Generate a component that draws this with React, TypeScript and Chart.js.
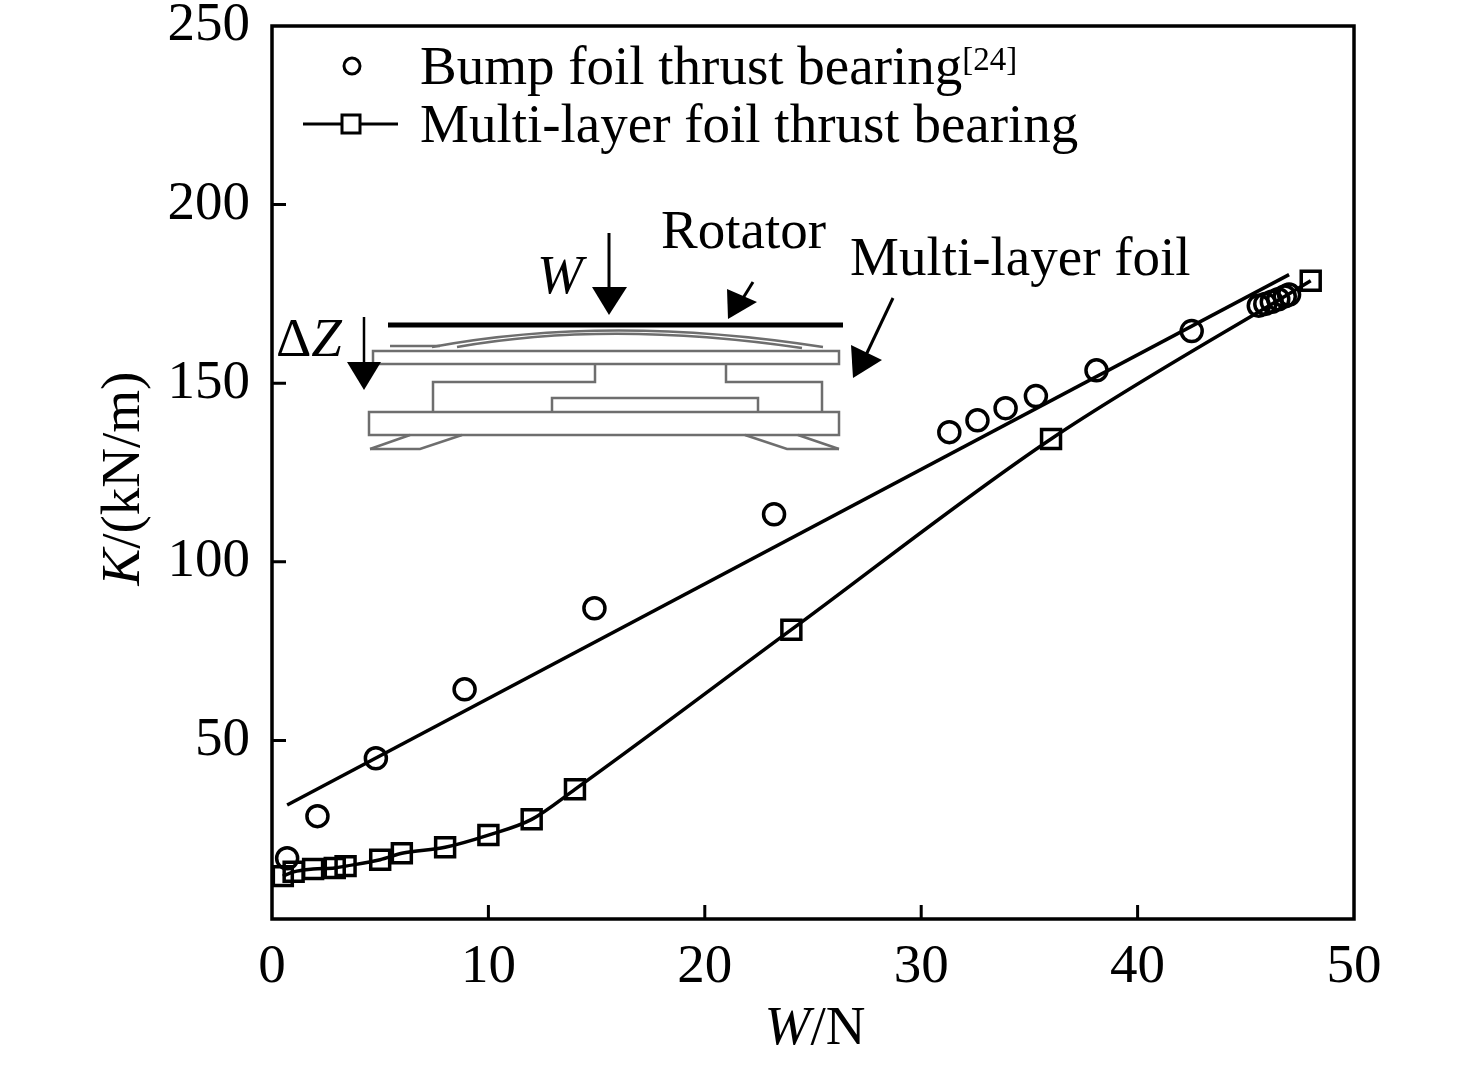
import { useEffect, useRef } from "react"
import { Chart, registerables } from "chart.js"

Chart.register(...registerables)

// Bump foil thrust bearing [24] (open circles)
const bumpLoad = [0.7, 2.1, 4.8, 8.9, 14.9, 23.2, 31.3, 32.6, 33.9, 35.3, 38.1, 42.5, 45.6, 45.9, 46.2, 46.5, 46.8, 47.0]
const bumpStiffness = [17.0, 28.8, 45.0, 64.3, 87.0, 113.3, 136.3, 139.6, 143.0, 146.4, 153.6, 164.6, 171.7, 172.2, 172.8, 173.5, 174.3, 174.8]

// linear fit through the bump foil data
const fitLoad = [0.7, 47.0]
const fitStiffness = [31.9, 180.4]

// Multi-layer foil thrust bearing (squares + line)
const multiLoad = [0.5, 1.0, 1.9, 2.9, 3.4, 5.0, 6.0, 8.0, 10.0, 12.0, 14.0, 24.0, 36.0, 48.0]
const multiStiffness = [12.0, 13.2, 14.0, 14.3, 14.8, 16.6, 18.4, 20.1, 23.5, 27.9, 36.3, 81.0, 134.4, 178.7]

const xTicks = [0, 10, 20, 30, 40, 50]
const yTicks = [50, 100, 150, 200, 250]

const legendLabels = ["Bump foil thrust bearing", "Multi-layer foil thrust bearing"]
const legendRef = "[24]"

const FAMILY = '"Liberation Serif", "Times New Roman", serif'
const FS = 55
const font = (size: number, italic = false) => `${italic ? "italic " : ""}${size}px ${FAMILY}`

const zip = (xs: number[], ys: number[]) => xs.map((x, i) => ({ x, y: ys[i] }))

type Run = { text: string; italic?: boolean; size?: number }

function drawRuns(ctx: CanvasRenderingContext2D, runs: Run[], x: number, y: number, align: "left" | "center" = "left") {
  let total = 0
  runs.forEach(r => {
    ctx.font = font(r.size ?? FS, r.italic)
    total += ctx.measureText(r.text).width
  })
  let cx = align === "center" ? x - total / 2 : x
  runs.forEach(r => {
    ctx.font = font(r.size ?? FS, r.italic)
    ctx.fillText(r.text, cx, y)
    cx += ctx.measureText(r.text).width
  })
}

function tri(ctx: CanvasRenderingContext2D, pts: number[][]) {
  ctx.beginPath()
  ctx.moveTo(pts[0][0], pts[0][1])
  ctx.lineTo(pts[1][0], pts[1][1])
  ctx.lineTo(pts[2][0], pts[2][1])
  ctx.closePath()
  ctx.fill()
}

function poly(ctx: CanvasRenderingContext2D, pts: number[][]) {
  ctx.beginPath()
  ctx.moveTo(pts[0][0], pts[0][1])
  for (let i = 1; i < pts.length; i++) ctx.lineTo(pts[i][0], pts[i][1])
  ctx.stroke()
}

const decorPlugin = {
  id: "decor",
  afterDraw(chart: any) {
    const { ctx, chartArea: a, scales } = chart
    const xs = scales.x
    const ys = scales.y
    ctx.save()
    ctx.strokeStyle = "#000"
    ctx.fillStyle = "#000"

    // frame
    ctx.lineWidth = 3.5
    ctx.strokeRect(a.left, a.top, a.right - a.left, a.bottom - a.top)

    // inward tick marks
    ctx.lineWidth = 3
    ctx.beginPath()
    xTicks.forEach(v => {
      if (v <= xs.min || v >= xs.max) return
      const px = xs.getPixelForValue(v)
      ctx.moveTo(px, a.bottom)
      ctx.lineTo(px, a.bottom - 14)
    })
    yTicks.forEach(v => {
      if (v <= ys.min || v >= ys.max) return
      const py = ys.getPixelForValue(v)
      ctx.moveTo(a.left, py)
      ctx.lineTo(a.left + 14, py)
    })
    ctx.stroke()

    // axis titles
    ctx.textBaseline = "alphabetic"
    drawRuns(ctx, [{ text: "W", italic: true }, { text: "/N" }], (a.left + a.right) / 2 + 2, 1044, "center")
    ctx.save()
    ctx.translate(125, (a.top + a.bottom) / 2 + 6)
    ctx.rotate(-Math.PI / 2)
    ctx.textBaseline = "middle"
    drawRuns(ctx, [{ text: "K", italic: true }, { text: "/(kN/m)" }], 0, 0, "center")
    ctx.restore()

    // origin for the legend and the inset sketch
    const ox = xs.getPixelForValue(0)
    const oy = ys.getPixelForValue(250)
    const P = (dx: number, dy: number) => [ox + dx, oy + dy]

    // legend
    ctx.lineWidth = 3
    ctx.beginPath()
    ctx.arc(ox + 80, oy + 40, 8, 0, Math.PI * 2)
    ctx.stroke()
    drawRuns(ctx, [{ text: legendLabels[0] }], ox + 148, oy + 58)
    ctx.font = font(FS)
    const w0 = ctx.measureText(legendLabels[0]).width
    drawRuns(ctx, [{ text: legendRef, size: 33 }], ox + 148 + w0, oy + 44)
    poly(ctx, [P(31, 98), P(126, 98)])
    ctx.fillStyle = "#fff"
    ctx.fillRect(ox + 70, oy + 89, 18, 18)
    ctx.fillStyle = "#000"
    ctx.strokeRect(ox + 70, oy + 89, 18, 18)
    drawRuns(ctx, [{ text: legendLabels[1] }], ox + 148, oy + 116)

    // inset sketch of the bearing
    ctx.strokeStyle = "#6e6e6e"
    ctx.lineWidth = 2.5
    poly(ctx, [P(118, 320), P(168, 320)])
    ctx.beginPath()
    ctx.moveTo(...(P(160, 321) as [number, number]))
    ctx.quadraticCurveTo(ox + 338, oy + 288, ox + 551, oy + 321)
    ctx.stroke()
    ctx.beginPath()
    ctx.moveTo(...(P(185, 321) as [number, number]))
    ctx.quadraticCurveTo(ox + 338, oy + 294, ox + 530, oy + 322)
    ctx.stroke()
    ctx.strokeRect(ox + 101, oy + 325, 466, 13)
    poly(ctx, [P(323, 338), P(323, 356), P(161, 356), P(161, 386)])
    poly(ctx, [P(454, 338), P(454, 356), P(550, 356), P(550, 386)])
    poly(ctx, [P(280, 386), P(280, 372), P(486, 372), P(486, 386)])
    ctx.strokeRect(ox + 97, oy + 386, 470, 23)
    poly(ctx, [P(138, 409), P(98, 423)])
    poly(ctx, [P(98, 423), P(148, 423), P(190, 409)])
    poly(ctx, [P(473, 409), P(515, 423), P(567, 423)])
    poly(ctx, [P(526, 409), P(567, 423)])

    // rotator
    ctx.strokeStyle = "#000"
    ctx.lineWidth = 5
    poly(ctx, [P(116, 299), P(571, 299)])

    // arrows
    ctx.lineWidth = 3
    poly(ctx, [P(337, 207), P(337, 264)])
    tri(ctx, [P(320, 261), P(355, 261), P(337, 289)])
    poly(ctx, [P(481, 256), P(468, 277)])
    tri(ctx, [P(456, 293), P(455, 263), P(485, 276)])
    poly(ctx, [P(621, 272), P(594, 329)])
    tri(ctx, [P(581, 352), P(579, 319), P(610, 334)])
    ctx.lineWidth = 2.5
    poly(ctx, [P(92, 291), P(92, 338)])
    tri(ctx, [P(75, 336), P(109, 336), P(92, 364)])

    // inset labels
    drawRuns(ctx, [{ text: "W", italic: true }], ox + 265, oy + 267)
    drawRuns(ctx, [{ text: "Rotator" }], ox + 389, oy + 222)
    drawRuns(ctx, [{ text: "Multi-layer foil" }], ox + 578, oy + 249)
    drawRuns(ctx, [{ text: "Δ" }, { text: "Z", italic: true }], ox + 4, oy + 330)

    ctx.restore()
  },
}

export default function App() {
  const canvasRef = useRef<HTMLCanvasElement>(null)
  const chartRef = useRef<Chart | null>(null)

  useEffect(() => {
    if (!canvasRef.current) return
    if (chartRef.current) chartRef.current.destroy()

    const tickFont = { family: FAMILY, size: FS }

    chartRef.current = new Chart(canvasRef.current, {
      type: "scatter",
      data: {
        datasets: [
          {
            label: "Bump foil thrust bearing",
            data: zip(bumpLoad, bumpStiffness),
            pointStyle: "circle",
            pointRadius: 10.5,
            borderWidth: 3.5,
            borderColor: "#000",
            backgroundColor: "rgba(0,0,0,0)",
            showLine: false,
          },
          {
            label: "Fit",
            data: zip(fitLoad, fitStiffness),
            showLine: true,
            pointRadius: 0,
            borderWidth: 3.5,
            borderColor: "#000",
            tension: 0,
          },
          {
            label: "Multi-layer foil thrust bearing",
            data: zip(multiLoad, multiStiffness),
            showLine: true,
            pointStyle: "rect",
            pointRadius: 13.4,
            borderWidth: 3.5,
            borderColor: "#000",
            backgroundColor: "rgba(0,0,0,0)",
            cubicInterpolationMode: "monotone",
          },
        ],
      },
      options: {
        animation: false,
        responsive: false,
        devicePixelRatio: 1,
        layout: { padding: { top: 26, right: 122, left: 0, bottom: 0 } },
        plugins: {
          legend: { display: false },
          tooltip: { enabled: false },
        },
        scales: {
          x: {
            type: "linear",
            min: 0,
            max: 50,
            afterBuildTicks: (s: any) => {
              s.ticks = xTicks.map(v => ({ value: v }))
            },
            ticks: { color: "#000", font: tickFont, padding: 8, maxRotation: 0 },
            grid: { display: false },
            border: { display: false },
            afterFit: (s: any) => {
              s.height = 147
              s.paddingLeft = 0
              s.paddingRight = 0
            },
          },
          y: {
            type: "linear",
            min: 0,
            max: 250,
            afterBuildTicks: (s: any) => {
              s.ticks = yTicks.map(v => ({ value: v }))
            },
            ticks: { color: "#000", font: tickFont, padding: 14 },
            grid: { display: false },
            border: { display: false },
            afterFit: (s: any) => {
              s.width = 272
              s.paddingTop = 0
              s.paddingBottom = 0
            },
          },
        },
      } as any,
      plugins: [decorPlugin],
    })

    return () => {
      if (chartRef.current) {
        chartRef.current.destroy()
        chartRef.current = null
      }
    }
  }, [])

  return (
    <div style={{ position: "absolute", left: 0, top: 0, width: 1476, height: 1066, background: "#fff" }}>
      <canvas ref={canvasRef} width={1476} height={1066} />
    </div>
  )
}
